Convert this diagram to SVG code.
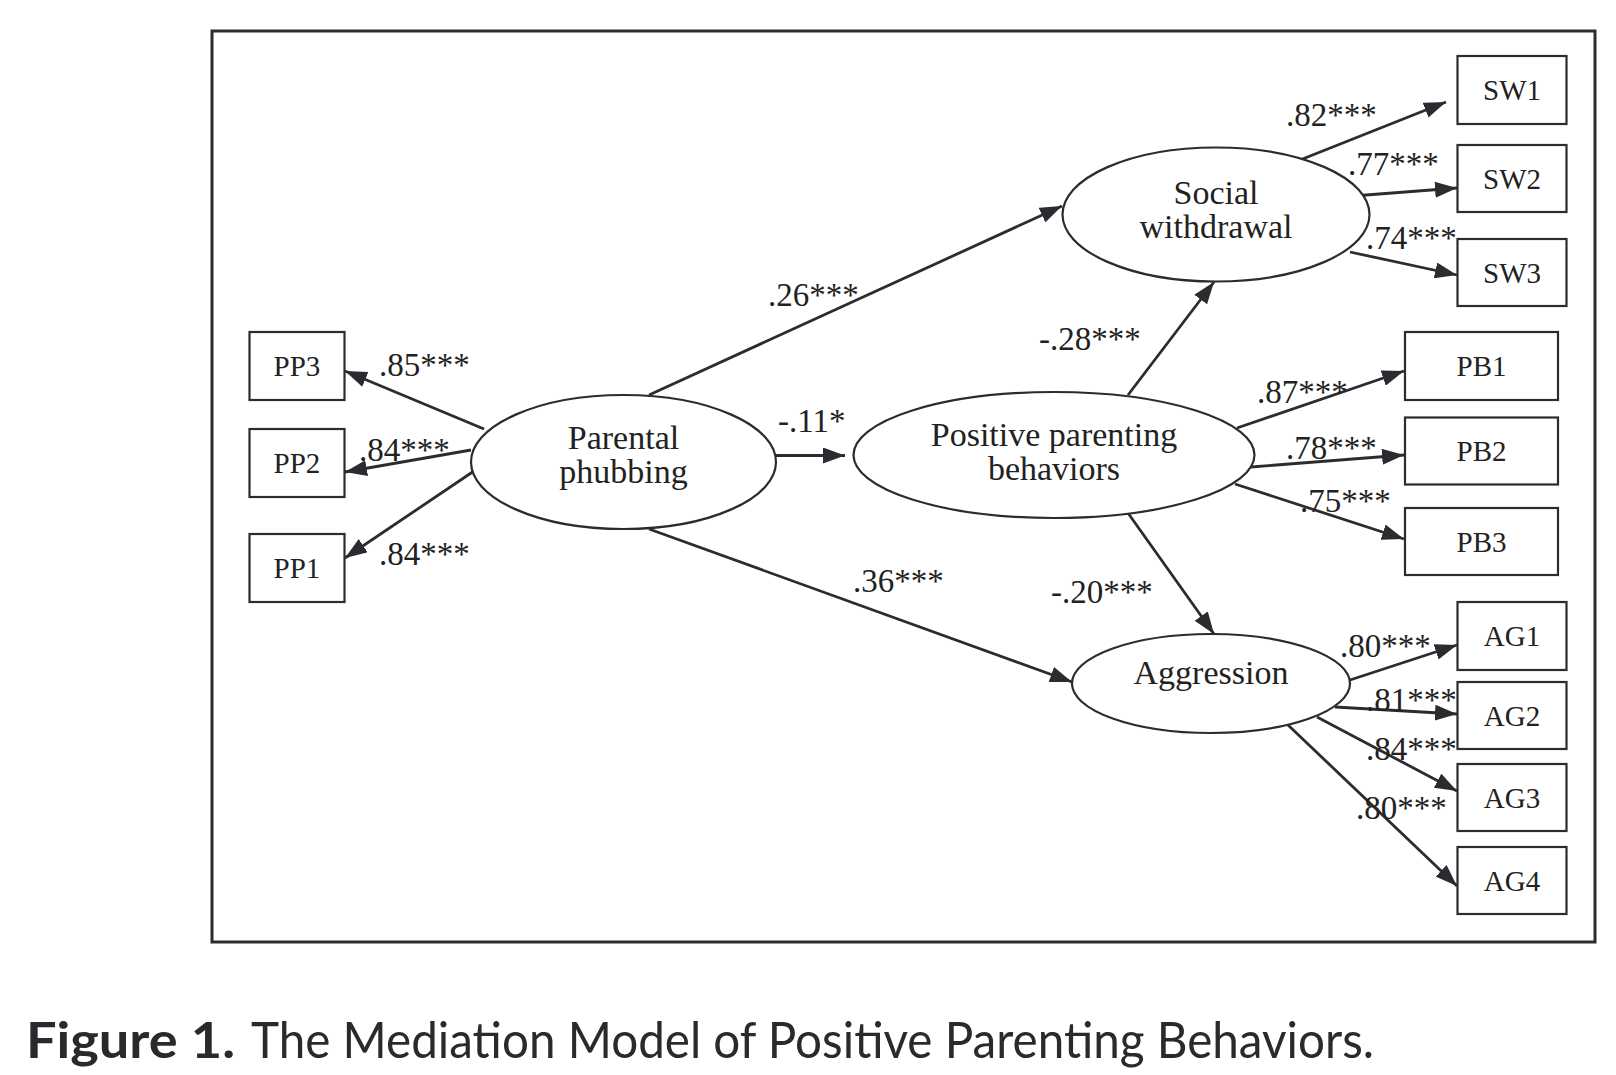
<svg xmlns="http://www.w3.org/2000/svg" width="1616" height="1075" viewBox="0 0 1616 1075">
<style>
.box{fill:#fff;stroke:#2b2c30;stroke-width:2.2}
.ell{fill:#fff;stroke:#2b2c30;stroke-width:2.2}
.bl{font-family:"Liberation Serif","Times New Roman",serif;font-size:29px;fill:#222;text-anchor:middle}
.el{font-family:"Liberation Serif","Times New Roman",serif;font-size:34px;fill:#222;text-anchor:middle}
.lb{font-family:"Liberation Serif","Times New Roman",serif;font-size:33px;fill:#222}
.ar{stroke:#2b2c30;stroke-width:2.8;fill:none;marker-end:url(#ah)}
.cap{font-family:Lato,"Open Sans",sans-serif;font-size:50px;fill:#2a2a2e}
</style>
<defs>
<marker id="ah" markerUnits="userSpaceOnUse" markerWidth="22" markerHeight="16" refX="22" refY="8" orient="auto">
<path d="M0,0 L22,8 L0,16 z" fill="#2b2c30"/>
</marker>
</defs>
<rect width="1616" height="1075" fill="#fff"/>
<rect x="212" y="31" width="1383" height="911" fill="none" stroke="#2b2c30" stroke-width="3"/>

<g id="connectors">
<line class="ar" x1="649" y1="395" x2="1062" y2="206"/>
<line class="ar" x1="773" y1="455.5" x2="845" y2="455.5"/>
<line class="ar" x1="649" y1="529" x2="1072" y2="682"/>
<line class="ar" x1="1128" y1="395" x2="1214" y2="282"/>
<line class="ar" x1="1128" y1="513" x2="1214" y2="634"/>
<line class="ar" x1="484" y1="429" x2="345" y2="371"/>
<line class="ar" x1="471" y1="450" x2="345" y2="472"/>
<line class="ar" x1="477" y1="469" x2="345" y2="558"/>
<line class="ar" x1="1300" y1="160" x2="1446" y2="102"/>
<line class="ar" x1="1353" y1="196" x2="1457" y2="188"/>
<line class="ar" x1="1350" y1="252" x2="1457" y2="275"/>
<line class="ar" x1="1237" y1="428" x2="1404" y2="371"/>
<line class="ar" x1="1251" y1="467" x2="1404" y2="455"/>
<line class="ar" x1="1235" y1="484" x2="1404" y2="539"/>
<line class="ar" x1="1350" y1="680" x2="1457" y2="645"/>
<line class="ar" x1="1335" y1="707" x2="1457" y2="714"/>
<line class="ar" x1="1317" y1="717" x2="1457" y2="791"/>
<line class="ar" x1="1288" y1="725" x2="1457" y2="886"/>
</g>

<g id="labels">
<text class="lb" x="379" y="376">.85***</text>
<text class="lb" x="359" y="461">.84***</text>
<text class="lb" x="379" y="565">.84***</text>
<text class="lb" x="768" y="306">.26***</text>
<text class="lb" x="778" y="432">-.11*</text>
<text class="lb" x="853" y="592">.36***</text>
<text class="lb" x="1039" y="350">-.28***</text>
<text class="lb" x="1051" y="603">-.20***</text>
<text class="lb" x="1286" y="126">.82***</text>
<text class="lb" x="1348" y="175">.77***</text>
<text class="lb" x="1366" y="249">.74***</text>
<text class="lb" x="1257" y="403">.87***</text>
<text class="lb" x="1286" y="459">.78***</text>
<text class="lb" x="1300" y="512">.75***</text>
<text class="lb" x="1340" y="657">.80***</text>
<text class="lb" x="1366" y="711">.81***</text>
<text class="lb" x="1366" y="760">.84***</text>
<text class="lb" x="1356" y="819">.80***</text>
</g>

<g id="PP"><ellipse class="ell" cx="623.5" cy="462" rx="152.5" ry="67"/><text class="el" x="623.5" y="449">Parental</text><text class="el" x="623.5" y="483">phubbing</text></g>
<g id="SW"><ellipse class="ell" cx="1216" cy="214.5" rx="153.5" ry="67"/><text class="el" x="1216" y="204">Social</text><text class="el" x="1216" y="238">withdrawal</text></g>
<g id="PPB"><ellipse class="ell" cx="1054" cy="455" rx="200.5" ry="63"/><text class="el" x="1054" y="446">Positive parenting</text><text class="el" x="1054" y="480">behaviors</text></g>
<g id="AG"><ellipse class="ell" cx="1211" cy="683.5" rx="139" ry="49.5"/><text class="el" x="1211" y="684">Aggression</text></g>

<g id="PP3"><rect class="box" x="249.5" y="332" width="95" height="68"/><text class="bl" x="297" y="376">PP3</text></g>
<g id="PP2"><rect class="box" x="249.5" y="429" width="95" height="68"/><text class="bl" x="297" y="473">PP2</text></g>
<g id="PP1"><rect class="box" x="249.5" y="534" width="95" height="68"/><text class="bl" x="297" y="578">PP1</text></g>

<g id="SW1"><rect class="box" x="1457.5" y="56" width="109" height="68"/><text class="bl" x="1512" y="100">SW1</text></g>
<g id="SW2"><rect class="box" x="1457.5" y="145" width="109" height="67"/><text class="bl" x="1512" y="189">SW2</text></g>
<g id="SW3"><rect class="box" x="1457.5" y="239" width="109" height="67"/><text class="bl" x="1512" y="283">SW3</text></g>

<g id="PB1"><rect class="box" x="1405" y="332" width="153" height="68"/><text class="bl" x="1481.5" y="376">PB1</text></g>
<g id="PB2"><rect class="box" x="1405" y="417.5" width="153" height="67"/><text class="bl" x="1481.5" y="461">PB2</text></g>
<g id="PB3"><rect class="box" x="1405" y="508" width="153" height="67"/><text class="bl" x="1481.5" y="552">PB3</text></g>

<g id="AG1"><rect class="box" x="1457.5" y="602" width="109" height="68"/><text class="bl" x="1512" y="646">AG1</text></g>
<g id="AG2"><rect class="box" x="1457.5" y="682" width="109" height="67"/><text class="bl" x="1512" y="726">AG2</text></g>
<g id="AG3"><rect class="box" x="1457.5" y="764" width="109" height="67"/><text class="bl" x="1512" y="808">AG3</text></g>
<g id="AG4"><rect class="box" x="1457.5" y="847" width="109" height="67"/><text class="bl" x="1512" y="891">AG4</text></g>

<g id="caption">
<text class="cap" x="26" y="1058" font-weight="bold" textLength="209" lengthAdjust="spacingAndGlyphs">Figure 1.</text>
<text class="cap" x="251" y="1058" textLength="1123" lengthAdjust="spacingAndGlyphs">The Mediation Model of Positive Parenting Behaviors.</text>
</g>
</svg>
